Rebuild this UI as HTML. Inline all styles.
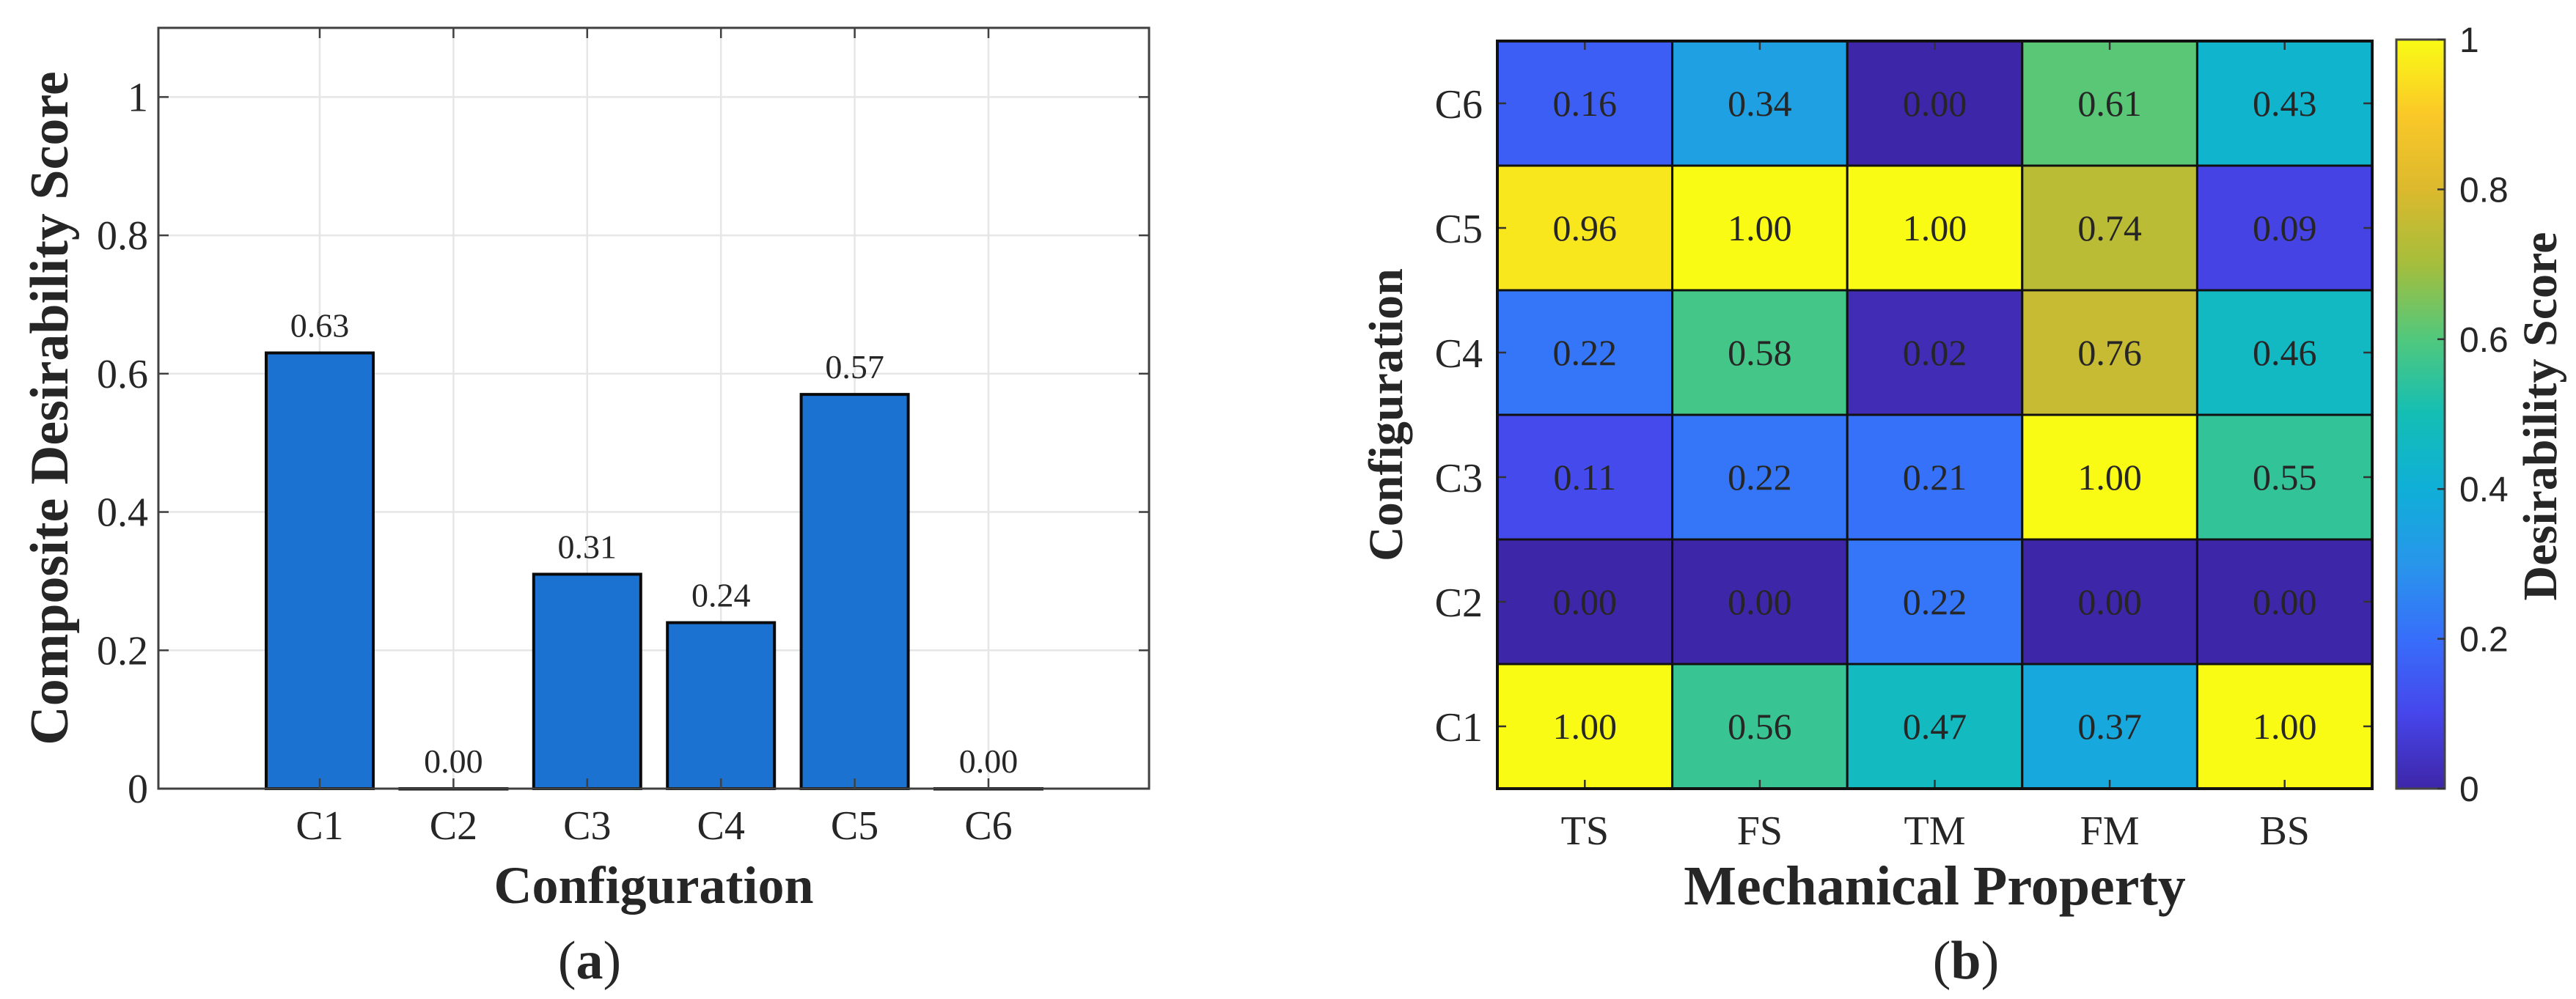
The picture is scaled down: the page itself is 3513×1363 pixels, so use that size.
<!DOCTYPE html>
<html><head><meta charset="utf-8">
<style>
html,body{margin:0;padding:0;background:#fff;}
svg{display:block;}
text{font-family:"Liberation Serif","DejaVu Serif",serif;fill:#262626;}
.sans{font-family:"Liberation Sans","DejaVu Sans",sans-serif;}
</style></head>
<body>
<svg id="fig" width="3513" height="1363" viewBox="0 0 3513 1363" xmlns="http://www.w3.org/2000/svg">
<g id="barChart"></g>
<g id="heatChart"></g>
</svg>
<script>
// ---- data: bar chart (a) ----
const barCategories = ["C1","C2","C3","C4","C5","C6"];
const barValues = [0.63, 0.00, 0.31, 0.24, 0.57, 0.00];
const barYTicks = [0, 0.2, 0.4, 0.6, 0.8, 1];
const barYTickLabels = ["0","0.2","0.4","0.6","0.8","1"];
// ---- data: heatmap (b) ----
const heatRows = ["C1","C2","C3","C4","C5","C6"];
const heatCols = ["TS","FS","TM","FM","BS"];
const heatC1 = [1.00, 0.56, 0.47, 0.37, 1.00];
const heatC2 = [0.00, 0.00, 0.22, 0.00, 0.00];
const heatC3 = [0.11, 0.22, 0.21, 1.00, 0.55];
const heatC4 = [0.22, 0.58, 0.02, 0.76, 0.46];
const heatC5 = [0.96, 1.00, 1.00, 0.74, 0.09];
const heatC6 = [0.16, 0.34, 0.00, 0.61, 0.43];
const heatValues = [heatC1, heatC2, heatC3, heatC4, heatC5, heatC6];
const cbTicks = [0, 0.2, 0.4, 0.6, 0.8, 1];
const cbTickLabels = ["0","0.2","0.4","0.6","0.8","1"];

const NS = "http://www.w3.org/2000/svg";
function mk(parent, tag, attrs, txt){
  const e = document.createElementNS(NS, tag);
  for (const k in attrs) e.setAttribute(k, attrs[k]);
  if (txt !== undefined) e.textContent = txt;
  parent.appendChild(e);
  return e;
}

// ===== Bar chart =====
const bg = document.getElementById('barChart');
const A = {l:216, r:1567, t:38, b:1076};
const yMax = 1.1;
function by(v){ return A.b - v/yMax*(A.b-A.t); }
function bx(i){ return 436 + i*182.4; }
const barW = 146;

const plotBg = mk(bg,'rect',{x:A.l,y:A.t,width:A.r-A.l,height:A.b-A.t,fill:'#fff'});


barYTicks.forEach((t,k)=>{
  if (t>0){
    const g = mk(bg,'line',{x1:A.l,x2:A.r,y1:by(t),y2:by(t),stroke:'#e6e6e6','stroke-width':2.5});
    
    
  }
  const tk = mk(bg,'line',{x1:A.l,x2:A.l+14,y1:by(t),y2:by(t),stroke:'#404040','stroke-width':2.5});
  
  
  const tk2 = mk(bg,'line',{x1:A.r-14,x2:A.r,y1:by(t),y2:by(t),stroke:'#404040','stroke-width':2.5});
  
  
  const lb = mk(bg,'text',{x:A.l-14,y:by(t)+19,'text-anchor':'end','font-size':56},barYTickLabels[k]);
  
  
});
barCategories.forEach((c,i)=>{
  const g = mk(bg,'line',{x1:bx(i),x2:bx(i),y1:A.t,y2:A.b,stroke:'#e6e6e6','stroke-width':2.5});
  
  
});
barCategories.forEach((c,i)=>{
  const v = barValues[i];
  const y = by(v);
  const r = mk(bg,'rect',{x:bx(i)-barW/2,y:y,width:barW,height:Math.max(A.b-y,0.5),fill:'#1b72d1',stroke:'#0a0a0a','stroke-width':4});
  
  
  const t = mk(bg,'text',{x:bx(i),y:y-22,'text-anchor':'middle','font-size':46},v.toFixed(2));
  
  
  const tk = mk(bg,'line',{x1:bx(i),x2:bx(i),y1:A.b,y2:A.b-14,stroke:'#404040','stroke-width':2.5});
  
  
  const tk2 = mk(bg,'line',{x1:bx(i),x2:bx(i),y1:A.t,y2:A.t+14,stroke:'#404040','stroke-width':2.5});
  
  
  const lb = mk(bg,'text',{x:bx(i),y:1145,'text-anchor':'middle','font-size':56},c);
  
  
});
const frame = mk(bg,'rect',{x:A.l,y:A.t,width:A.r-A.l,height:A.b-A.t,fill:'none',stroke:'#404040','stroke-width':3});


const xt = mk(bg,'text',{x:(A.l+A.r)/2,y:1232,'text-anchor':'middle','font-size':72,'font-weight':'bold'},'Configuration');


const yt = mk(bg,'text',{x:0,y:0,'text-anchor':'middle','font-size':74,'font-weight':'bold',transform:'translate(92,557) rotate(-90)'},'Composite Desirability Score');


const pa = mk(bg,'text',{x:804,y:1335,'text-anchor':'middle','font-size':74,'font-family':'Liberation Sans, sans-serif'},'');


pa.innerHTML = '(<tspan font-weight="bold">a</tspan>)';

// ===== Heatmap =====
const hg = document.getElementById('heatChart');
const H = {l:2042, r:3235, t:56, b:1076};
const cw = (H.r-H.l)/heatCols.length, ch = (H.b-H.t)/heatRows.length;
function hx(j){ return H.l + j*cw; }
function hy(i){ return H.b - (i+1)*ch; }
const stops = [[0,62,38,168],[0.1,70,70,235],[0.2,55,110,250],[0.3,40,150,235],[0.4,15,175,215],[0.5,20,190,180],[0.6,80,200,125],[0.7,165,190,60],[0.8,220,185,45],[0.9,250,200,40],[1,249,251,21]];
function parula(v){
  v = Math.max(0,Math.min(1,v));
  for (let k=0;k<stops.length-1;k++){
    const a=stops[k], b=stops[k+1];
    if (v<=b[0]){
      const f=(v-a[0])/(b[0]-a[0]);
      return 'rgb('+[1,2,3].map(q=>Math.round(a[q]+(b[q]-a[q])*f)).join(',')+')';
    }
  }
  return 'rgb(249,251,21)';
}
heatRows.forEach((r,i)=>{
  heatCols.forEach((c,j)=>{
    const v = heatValues[i][j];
    const cell = mk(hg,'rect',{x:hx(j),y:hy(i),width:cw,height:ch,fill:parula(v),stroke:'#111','stroke-width':3});
    
    
    const t = mk(hg,'text',{x:hx(j)+cw/2,y:hy(i)+ch/2+17,'text-anchor':'middle','font-size':50,fill:'#111'},v.toFixed(2));
    
    
  });
});
heatRows.forEach((r,i)=>{
  const yc = hy(i)+ch/2;
  const tk = mk(hg,'line',{x1:H.l,x2:H.l+12,y1:yc,y2:yc,stroke:'#333','stroke-width':2.5});
  
  
  const tk2 = mk(hg,'line',{x1:H.r-12,x2:H.r,y1:yc,y2:yc,stroke:'#333','stroke-width':2.5});
  
  
  const lb = mk(hg,'text',{x:H.l-20,y:yc+20,'text-anchor':'end','font-size':56},r);
  
  
});
heatCols.forEach((c,j)=>{
  const xc = hx(j)+cw/2;
  const tk = mk(hg,'line',{x1:xc,x2:xc,y1:H.b,y2:H.b-12,stroke:'#333','stroke-width':2.5});
  
  
  const tk2 = mk(hg,'line',{x1:xc,x2:xc,y1:H.t,y2:H.t+12,stroke:'#333','stroke-width':2.5});
  
  
  const lb = mk(hg,'text',{x:xc,y:1152,'text-anchor':'middle','font-size':56},c);
  
  
});
const hframe = mk(hg,'rect',{x:H.l,y:H.t,width:H.r-H.l,height:H.b-H.t,fill:'none',stroke:'#111','stroke-width':4});


const hxt = mk(hg,'text',{x:(H.l+H.r)/2,y:1234,'text-anchor':'middle','font-size':76,'font-weight':'bold'},'Mechanical Property');


const hyt = mk(hg,'text',{x:0,y:0,'text-anchor':'middle','font-size':66,'font-weight':'bold',transform:'translate(1912,566) rotate(-90)'},'Configuration');


const CB = {l:3268, r:3334, t:54, b:1076};
const defs = mk(hg,'defs',{});
const grad = mk(defs,'linearGradient',{id:'parulaGrad',x1:0,y1:1,x2:0,y2:0});
stops.forEach(s=>{ mk(grad,'stop',{offset:s[0],'stop-color':'rgb('+s[1]+','+s[2]+','+s[3]+')'}); });
const cb = mk(hg,'rect',{x:CB.l,y:CB.t,width:CB.r-CB.l,height:CB.b-CB.t,fill:'url(#parulaGrad)',stroke:'#444','stroke-width':3});


function cy(v){ return CB.b - v*(CB.b-CB.t); }
cbTicks.forEach((t,k)=>{
  const tk = mk(hg,'line',{x1:CB.r-10,x2:CB.r,y1:cy(t),y2:cy(t),stroke:'#333','stroke-width':2.5});
  
  
  const lb = mk(hg,'text',{x:CB.r+20,y:cy(t)+17,'font-size':48,'class':'sans'},cbTickLabels[k]);
  
  
});
const cbt = mk(hg,'text',{x:0,y:0,'text-anchor':'middle','font-size':66,'font-weight':'bold',transform:'translate(3486,568) rotate(-90)'},'Desirability Score');


const pb = mk(hg,'text',{x:2681,y:1335,'text-anchor':'middle','font-size':74,'font-family':'Liberation Sans, sans-serif'},'');


pb.innerHTML = '(<tspan font-weight="bold">b</tspan>)';
</script>
</body></html>
